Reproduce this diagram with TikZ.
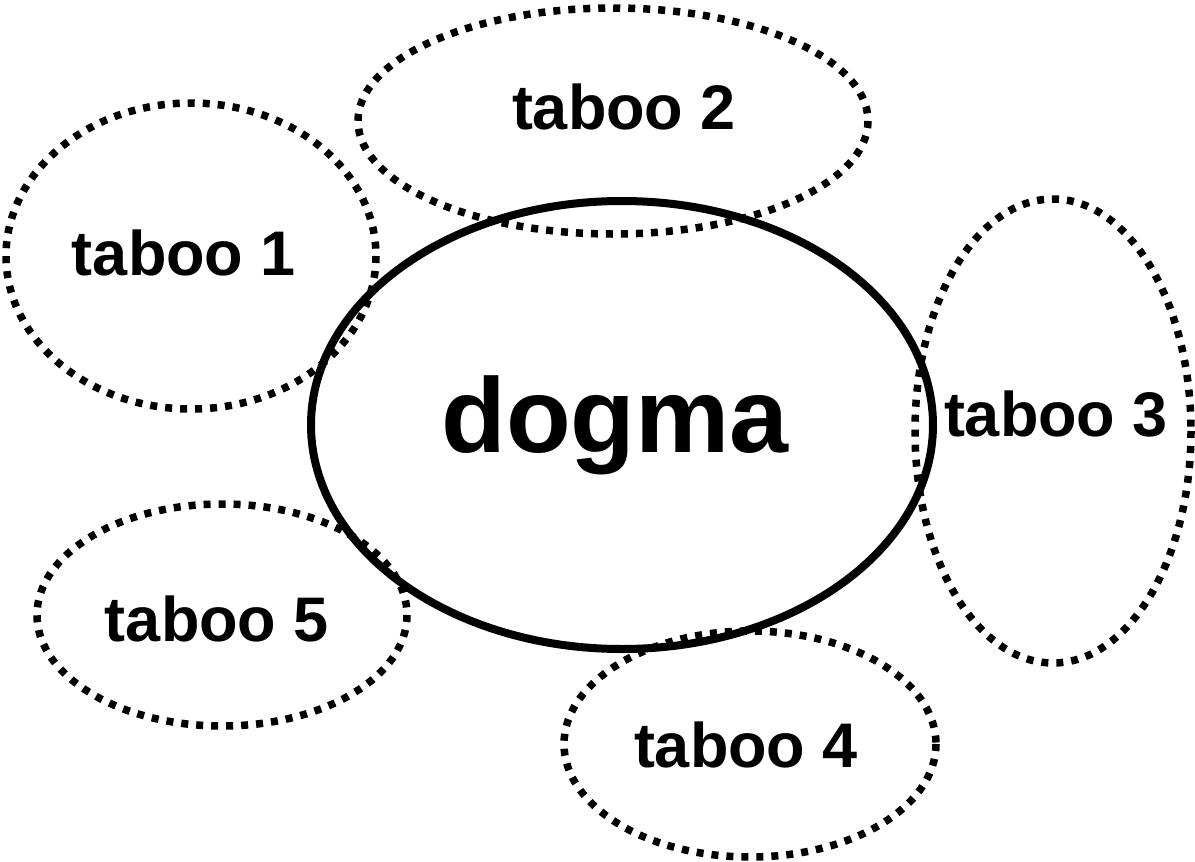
\documentclass[tikz,border=0pt]{standalone}
\usepackage{fontspec}
\setmainfont{Liberation Sans}
\begin{document}
\begin{tikzpicture}[x=1pt,y=-1pt,
  tabooshape/.style={draw=black,line width=7.5pt,dash pattern=on 7pt off 8pt},
  dogmashape/.style={draw=black,line width=8pt},
  lbl/.style={anchor=base,inner sep=0pt,font=\bfseries\fontsize{63}{70}\selectfont},
  biglbl/.style={anchor=base,inner sep=0pt,font=\bfseries\fontsize{106}{120}\selectfont}]
\useasboundingbox (0,0) rectangle (1195,862);
\draw[dogmashape] (622,425) ellipse [x radius=311, y radius=224];
\draw[tabooshape] (191,256) ellipse [x radius=185, y radius=153];
\draw[tabooshape] (613,121) ellipse [x radius=255, y radius=113];
\draw[tabooshape] (1053,431) ellipse [x radius=138, y radius=232];
\draw[tabooshape] (750,744) ellipse [x radius=186, y radius=113];
\draw[tabooshape] (222,615) ellipse [x radius=185, y radius=111];
\node[biglbl] (dogma) at (615,452) {dogma};
\node[lbl] (t1) at (184,275) {taboo 1};
\node[lbl] (t2) at (624,129) {taboo 2};
\node[lbl] (t3) at (1056,436) {taboo 3};
\node[lbl] (t4) at (746,767) {taboo 4};
\node[lbl] (t5) at (217,641) {taboo 5};
\end{tikzpicture}
\end{document}
